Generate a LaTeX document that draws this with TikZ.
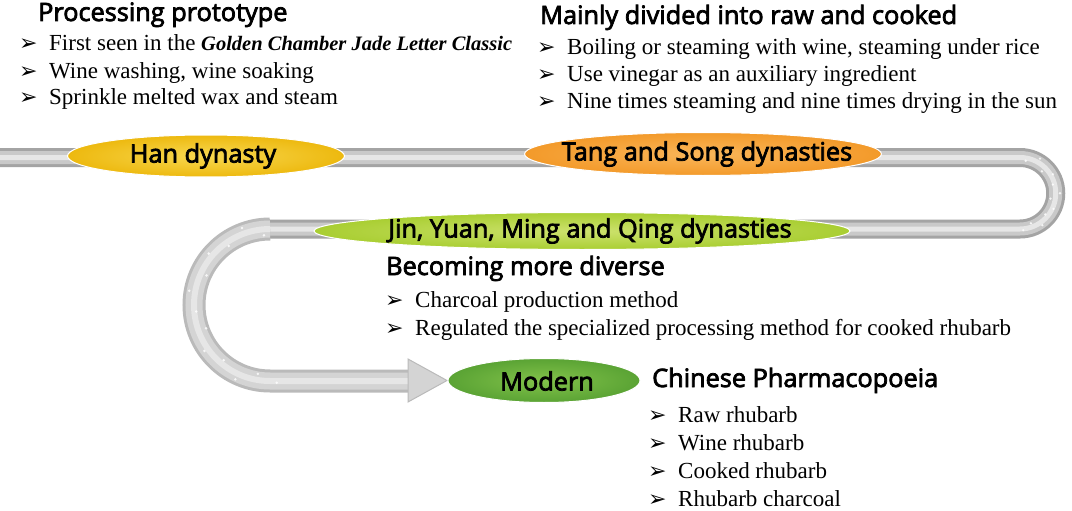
\documentclass[tikz,border=0pt]{standalone}
\usepackage{fontspec}
\setmainfont{Liberation Serif}
\newfontfamily\headfont[FakeBold=3]{Open Sans}
\newfontfamily\symfont{DejaVu Sans}
\usetikzlibrary{shapes.geometric,calc}
\definecolor{pipeedge}{HTML}{A4A4A4}
\definecolor{pipemid}{HTML}{C9C9C9}
\definecolor{pipehi}{HTML}{E6E6E6}
\definecolor{loopedge}{HTML}{BABABA}
\definecolor{loopmid}{HTML}{D4D4D4}
\definecolor{loophi}{HTML}{E6E6E6}
\definecolor{hanin}{HTML}{F8D850}
\definecolor{hanout}{HTML}{EDB90F}
\definecolor{tangin}{HTML}{FAB65A}
\definecolor{tangout}{HTML}{F39A2A}
\definecolor{jinin}{HTML}{CDE26E}
\definecolor{jinout}{HTML}{A9CE32}
\definecolor{modin}{HTML}{82C24A}
\definecolor{modout}{HTML}{5AA334}
\newcommand{\bul}{\makebox[30pt][l]{\symfont\fontsize{22}{22}\selectfont ➢}}
\begin{document}
\begin{tikzpicture}[x=1pt,y=-1pt,
  pipe/.style={line width=19pt, draw=pipeedge,
    postaction={draw=pipemid, line width=13pt},
    postaction={draw=pipehi, line width=5pt}},
  looppipe/.style={line width=23pt, draw=loopedge,
    postaction={draw=loopmid, line width=17pt},
    postaction={draw=loophi, line width=6pt}},
  ell/.style={ellipse, draw=white, line width=1pt, inner sep=0pt},
  elltext/.style={inner sep=0pt, font=\headfont\fontsize{25.3}{25.3}\selectfont, text=black},
  head/.style={anchor=base west, inner sep=0pt, font=\headfont\fontsize{25.3}{28}\selectfont},
  item/.style={anchor=base west, inner sep=0pt, font=\fontsize{23}{26}\selectfont},
  dot/.style={fill=white, opacity=0.8}]
\useasboundingbox (0,0) rectangle (1072,511);
\fill[white] (0,0) rectangle (1072,511);
% pipe coordinates
\coordinate (p0) at (0,157.5);
\coordinate (p1) at (1020,157.5);
\coordinate (p3) at (270,229);
\coordinate (p5) at (410,381);
\coordinate (ahtop) at (408,359);
\coordinate (ahbot) at (408,402);
\coordinate (tip) at (447,380.5);
\coordinate (uc) at (1020,193.25);
\coordinate (lc) at (270,305);
\draw[pipe] (p0) -- (p1) arc[start angle=-90, end angle=90, radius=35.75] -- (p3);
\draw[looppipe] (p3) arc[start angle=-90, end angle=-270, radius=76] -- (p5);
\fill[loopmid, draw=loopedge, line width=1pt] (ahtop) -- (tip) -- (ahbot) -- cycle;
% speckles on the bends
\foreach \a/\r in {-80/33,-60/40,-45/31,-30/38,-15/34,0/40,10/31,25/37,40/33,55/39,70/32,85/37}
  \fill[dot] ($(uc)+(\a:\r)$) circle (1.3pt);
\foreach \a/\r in {-95/70,-110/82,-125/72,-140/80,-155/70,-170/82,-185/74,-200/68,-215/80,-230/72,-245/82,-260/70,-275/78}
  \fill[dot] ($(lc)+(\a:\r)$) circle (1.4pt);
% ellipses
\node[ell, minimum width=277pt, minimum height=42pt, inner color=hanin, outer color=hanout] (han) at (206,156) {};
\node[elltext] (hant) at (203,156) {Han dynasty};
\node[ell, minimum width=357pt, minimum height=43pt, inner color=tangin, outer color=tangout] (tang) at (703,154) {};
\node[elltext] (tangt) at (707,154) {Tang and Song dynasties};
\node[ell, minimum width=536pt, minimum height=37pt, inner color=jinin, outer color=jinout] (jin) at (582,231) {};
\node[elltext] (jint) at (590,231) {Jin, Yuan, Ming and Qing dynasties};
\node[ell, minimum width=192pt, minimum height=44pt, inner color=modin, outer color=modout] (modern) at (544,380.5) {};
\node[elltext] (modernt) at (547,381) {Modern};
% Han texts
\node[head] (h1) at (38,21) {Processing prototype};
\node[item] (h1a) at (19,51) {\bul First seen in the \textbf{\textit{\fontsize{20.5}{24}\selectfont Golden Chamber Jade Letter Classic}}};
\node[item] (h1b) at (19,78) {\bul Wine washing, wine soaking};
\node[item] (h1c) at (19,105) {\bul Sprinkle melted wax and steam};
% Tang texts
\node[head] (h2) at (540,24) {Mainly divided into raw and cooked};
\node[item] (h2a) at (537,55) {\bul Boiling or steaming with wine, steaming under rice};
\node[item] (h2b) at (537,82) {\bul Use vinegar as an auxiliary ingredient};
\node[item] (h2c) at (537,109) {\bul Nine times steaming and nine times drying in the sun};
% Jin texts
\node[head] (h3) at (386,275) {Becoming more diverse};
\node[item] (h3a) at (385,307) {\bul Charcoal production method};
\node[item] (h3b) at (385,335) {\bul Regulated the specialized processing method for cooked rhubarb};
% Modern texts
\node[head] (h4) at (652,387) {Chinese Pharmacopoeia};
\node[item] (h4a) at (648,422) {\bul Raw rhubarb};
\node[item] (h4b) at (648,450) {\bul Wine rhubarb};
\node[item] (h4c) at (648,478) {\bul Cooked rhubarb};
\node[item] (h4d) at (648,506) {\bul Rhubarb charcoal};
\end{tikzpicture}
\end{document}
